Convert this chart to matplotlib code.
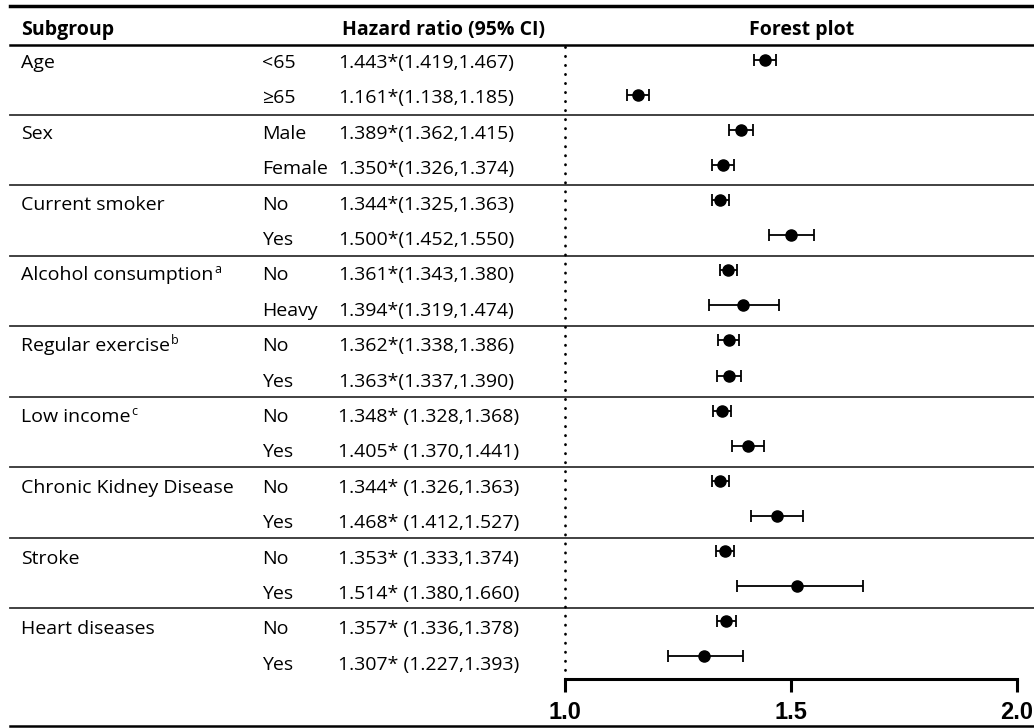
import matplotlib
matplotlib.use("Agg")
import matplotlib.pyplot as plt

plt.rcParams['font.family'] = ['Open Sans', 'DejaVu Sans']

# table content
groups = ["Age", "Sex", "Current smoker", "Alcohol consumption", "Regular exercise",
          "Low income", "Chronic Kidney Disease", "Stroke", "Heart diseases"]
group_sup = ["", "", "", "a", "b", "c", "", "", ""]
levels = ["<65", "\u226565", "Male", "Female", "No", "Yes", "No", "Heavy", "No", "Yes",
          "No", "Yes", "No", "Yes", "No", "Yes", "No", "Yes"]
hr = [1.443, 1.161, 1.389, 1.350, 1.344, 1.500, 1.361, 1.394, 1.362, 1.363,
      1.348, 1.405, 1.344, 1.468, 1.353, 1.514, 1.357, 1.307]
ci_lo = [1.419, 1.138, 1.362, 1.326, 1.325, 1.452, 1.343, 1.319, 1.338, 1.337,
         1.328, 1.370, 1.326, 1.412, 1.333, 1.380, 1.336, 1.227]
ci_hi = [1.467, 1.185, 1.415, 1.374, 1.363, 1.550, 1.380, 1.474, 1.386, 1.390,
         1.368, 1.441, 1.363, 1.527, 1.374, 1.660, 1.378, 1.393]
# later rows have a space after the asterisk in the source table
star_space = [""] * 10 + [" "] * 8
xticks = [1.0, 1.5, 2.0]

W, H = 1034, 728
fig = plt.figure(figsize=(W / 100, H / 100), dpi=100)

# background axes in pixel units for the table
bg = fig.add_axes([0, 0, 1, 1])
bg.set_xlim(0, W)
bg.set_ylim(H, 0)
bg.axis('off')

n = len(levels)
text_base = [68 + 35.4 * i for i in range(n)]   # text baselines
mark_y = [60 + 35.06 * i for i in range(n)]      # forest plot rows (slightly offset in source)
fs = 14

# horizontal rules
bg.plot([10, W], [6, 6], color='black', lw=2.5)
bg.plot([10, W], [45, 45], color='black', lw=1.8)
for g in range(1, len(groups)):
    yl = 115 + 70.43 * (g - 1)
    bg.plot([10, W], [yl, yl], color='#333333', lw=1.3)
bg.plot([10, W], [726, 726], color='black', lw=1.8)

# header
bg.text(21, 35, "Subgroup", fontsize=fs, fontweight='bold', va='baseline')
bg.text(342, 35, "Hazard ratio (95% CI)", fontsize=fs, fontweight='bold', va='baseline')
bg.text(802, 35, "Forest plot", fontsize=fs, fontweight='bold', va='baseline', ha='center')

renderer = fig.canvas.get_renderer()
for g, name in enumerate(groups):
    t = bg.text(21, text_base[2 * g], name, fontsize=fs, va='baseline')
    if group_sup[g]:
        bb = t.get_window_extent(renderer=renderer)
        xe = bg.transData.inverted().transform((bb.x1, 0))[0]
        bg.text(xe + 1, text_base[2 * g] - 7, group_sup[g], fontsize=9, va='baseline')

for i, lev in enumerate(levels):
    bg.text(262, text_base[i], lev, fontsize=fs, va='baseline')
    lab = "{:.3f}*{}({:.3f},{:.3f})".format(hr[i], star_space[i], ci_lo[i], ci_hi[i])
    bg.text(338, text_base[i], lab, fontsize=fs, va='baseline')

# forest plot axes
x0, x1p = 565, 1017
ytop, ybot = 45, 679
ax = fig.add_axes([x0 / W, 1 - ybot / H, (x1p - x0) / W, (ybot - ytop) / H])
ax.patch.set_alpha(0)
ax.set_xlim(1.0, 2.0)
ax.set_ylim(ybot, ytop)
for s in ['top', 'right', 'left']:
    ax.spines[s].set_visible(False)
ax.spines['bottom'].set_linewidth(2.2)
ax.spines['bottom'].set_clip_on(False)
ax.set_yticks([])
ax.set_xticks(xticks)
ax.set_xticklabels(["{:.1f}".format(v) for v in xticks])
ax.tick_params(axis='x', direction='out', length=9.5, width=2.2, pad=6)
for lb in ax.get_xticklabels():
    lb.set_fontfamily('Liberation Sans')
    lb.set_fontweight('bold')
    lb.set_fontsize(17)

# reference line at HR = 1
ax.axvline(1.0, color='black', lw=2.0, ls=(0, (0.1, 3.15)), dash_capstyle='round',
           clip_on=False)

err_lo = [h - l for h, l in zip(hr, ci_lo)]
err_hi = [u - h for h, u in zip(hr, ci_hi)]
ax.errorbar(hr, mark_y, xerr=[err_lo, err_hi], fmt='o', color='black',
            ecolor='black', elinewidth=1.3, capsize=4, capthick=1.3,
            markersize=8, clip_on=False)

fig.savefig("out.png", dpi=100)
